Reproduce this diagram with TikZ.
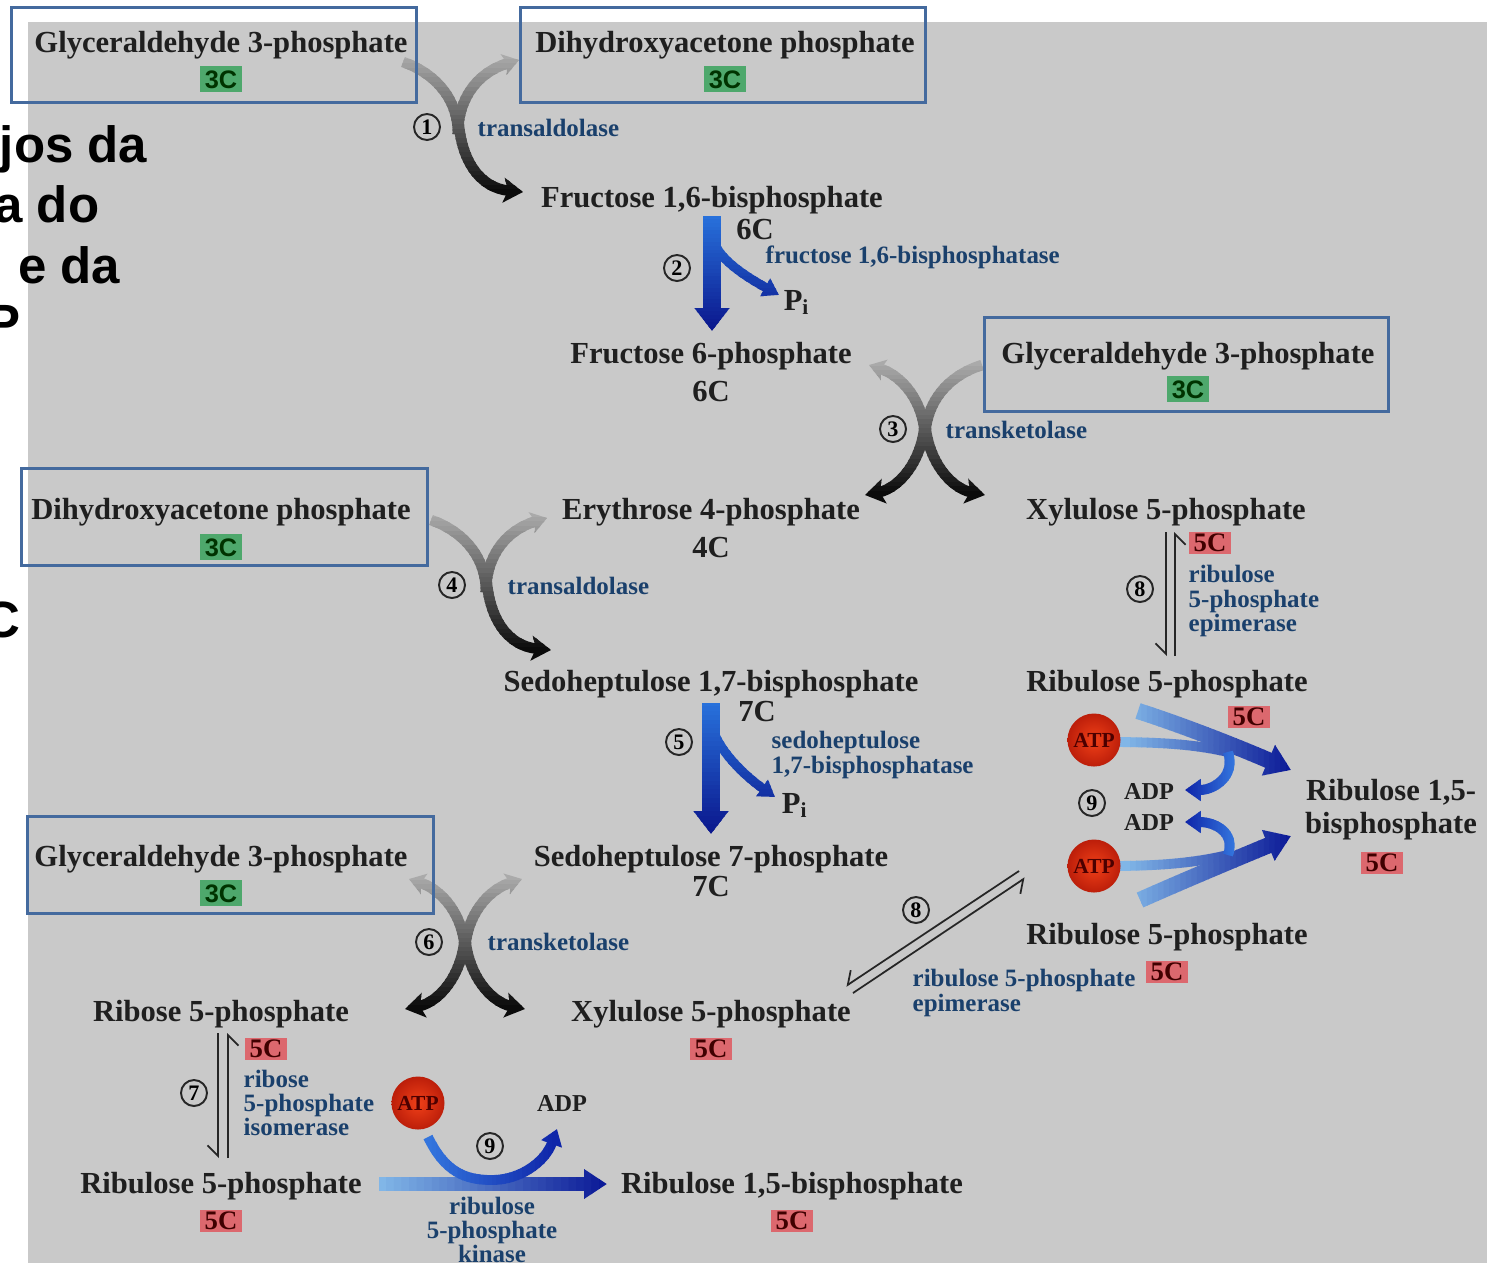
\documentclass[tikz,border=0pt]{standalone}
\usepackage{fontspec}
\newfontfamily\arialfont{Liberation Sans}
\newfontfamily\serifb{Liberation Serif}
\usetikzlibrary{arrows.meta}

\definecolor{panel}{RGB}{201,201,201}
\definecolor{boxblue}{RGB}{68,106,158}
\definecolor{enzblue}{RGB}{26,64,108}
\definecolor{cgreen}{RGB}{78,168,108}
\definecolor{cred}{RGB}{220,104,110}
\definecolor{atpin}{RGB}{240,64,24}
\definecolor{atpout}{RGB}{188,30,10}
\definecolor{xtop}{RGB}{172,172,172}
\definecolor{xbot}{RGB}{8,8,8}
\definecolor{btop}{RGB}{40,114,220}
\definecolor{bbot}{RGB}{10,22,140}
\definecolor{hleft}{RGB}{130,184,232}
\definecolor{hright}{RGB}{10,24,150}
\definecolor{cleft}{RGB}{52,118,222}
\definecolor{cright}{RGB}{14,36,168}

% vertical colour gradient for strokes: top y, bottom y, top colour, bottom colour, drawing
\newcommand\gradY[5]{%
  \foreach \k in {0,...,29}{%
    \pgfmathsetmacro\ya{(#1)+((#2)-(#1))*\k/30-0.4}%
    \pgfmathsetmacro\yb{(#1)+((#2)-(#1))*(\k+1)/30+0.4}%
    \ifnum\k=0 \def\ya{-300}\fi
    \ifnum\k=29 \def\yb{1800}\fi
    \pgfmathtruncatemacro\pc{100*(\k+0.5)/30}%
    \begin{scope}
      \clip (-300,\ya) rectangle (1800,\yb);
      \colorlet{gc}{#4!\pc!#3}%
      #5
    \end{scope}%
  }%
}
% horizontal colour gradient: left x, right x, left colour, right colour, drawing
\newcommand\gradX[5]{%
  \foreach \k in {0,...,29}{%
    \pgfmathsetmacro\xa{(#1)+((#2)-(#1))*\k/30-0.4}%
    \pgfmathsetmacro\xb{(#1)+((#2)-(#1))*(\k+1)/30+0.4}%
    \ifnum\k=0 \def\xa{-300}\fi
    \ifnum\k=29 \def\xb{1800}\fi
    \pgfmathtruncatemacro\pc{100*(\k+0.5)/30}%
    \begin{scope}
      \clip (\xa,-300) rectangle (\xb,1800);
      \colorlet{gc}{#4!\pc!#3}%
      #5
    \end{scope}%
  }%
}
% lambda-shaped transaldolase icon
\newcommand\yshape{%
  \gradY{55}{195}{xtop}{xbot}{%
    \draw[xarm] (403,62) .. controls (432,72) and (458,96) .. (458,134);
    \draw[xarm,-{Stealth[width=6pt,length=4.5pt,inset=1pt]}] (458,134) .. controls (458,98) and (478,72) .. (519,60);
    \draw[xarm,-{Stealth[width=7pt,length=5.5pt,inset=1.2pt]}] (458,108) .. controls (458,160) and (480,188) .. (523,192);
  }}
% X-shaped transketolase icon, centred at origin; #1 = tip of upper right arm
\newcommand\xshape[1]{%
  \gradY{-66}{68}{xtop}{xbot}{%
    \draw[xarm,-{Stealth[width=6pt,length=4.5pt,inset=1pt]}] (0,12) .. controls (0,-25) and (-22,-52) .. (-56,-63);
    \draw[xarm,#1] (0,12) .. controls (0,-25) and (22,-52) .. (57,-63);
    \draw[xarm,-{Stealth[width=7pt,length=5.5pt,inset=1.2pt]}] (0,-12) .. controls (0,30) and (-25,60) .. (-60,67);
    \draw[xarm,-{Stealth[width=7pt,length=5.5pt,inset=1.2pt]}] (0,-12) .. controls (0,30) and (25,60) .. (60,67);
  }}

\begin{document}
\begin{tikzpicture}[x=0.01cm,y=-0.01cm,line cap=butt,
  xarm/.style={draw=gc,line width=3pt},
  bshaft/.style={draw=gc,line width=5pt},
  bbranch/.style={draw=gc,line width=2.6pt},
  hband/.style={draw=gc,line width=4.6pt},
  hbandb/.style={draw=gc,line width=3.8pt},
  hin/.style={draw=gc,line width=2.8pt},
  eqline/.style={draw=black!85,line width=0.5pt,-{Straight Barb[harpoon,swap,length=3pt,width=6pt]}},
  mol/.style={font=\serifb\bfseries\fontsize{8.7}{10}\selectfont,text=black!88,inner sep=0pt,text height=5.8pt,text depth=0pt},
  adp/.style={font=\serifb\bfseries\fontsize{6.9}{8}\selectfont,text=black!88,inner sep=0pt,text height=4.6pt,text depth=0pt},
  enz/.style={font=\serifb\bfseries\fontsize{7.1}{6.9}\selectfont,text=enzblue,inner sep=0pt,align=left,anchor=west},
  num/.style={circle,draw=black!85,line width=0.55pt,minimum size=0.26cm,inner sep=0pt,font=\serifb\bfseries\fontsize{6.3}{7}\selectfont},
  atp/.style={circle,minimum size=0.53cm,inner sep=0pt,shade,shading=radial,inner color=atpin,outer color=atpout,font=\serifb\bfseries\fontsize{6.1}{7}\selectfont,text=black!70!red},
  cg/.style={fill=cgreen,font=\arialfont\bfseries\fontsize{7.2}{8}\selectfont,text=black!80!green,inner xsep=1.3pt,inner ysep=1pt,text height=5.2pt,text depth=0pt},
  cr/.style={fill=cred,font=\serifb\bfseries\fontsize{7.6}{8}\selectfont,text=black!75!red,inner xsep=1.2pt,inner ysep=0.7pt,text height=5pt,text depth=0pt},
  bluebox/.style={draw=boxblue,line width=0.85pt,inner sep=0pt},
  ptx/.style={font=\arialfont\bfseries\fontsize{14.5}{16}\selectfont,inner sep=0pt,anchor=base east},
]
\useasboundingbox (0,0) rectangle (1491,1263);
\clip (0,0) rectangle (1491,1263);
\fill[white] (0,0) rectangle (1491,1263);
\fill[panel] (28,22) rectangle (1487,1263);

% cut-off slide text on the left
\node[ptx] (pt1) at (148,162) {jos da};
\node[ptx] (pt2) at (100,222) {a do};
\node[ptx] (pt3) at (121,283) {e da};
\node[ptx] (pt4) at (21,340) {P};
\node[ptx] (pt5) at (21,637) {C};

% ---- grey/black transaldolase and transketolase icons
\yshape
\begin{scope}[shift={(28,458)}]\yshape\end{scope}
\begin{scope}[shift={(925,428)}]\xshape{-}\end{scope}
\begin{scope}[shift={(465,942)}]\xshape{-{Stealth[width=6pt,length=4.5pt,inset=1pt]}}\end{scope}

% ---- blue phosphatase arrows
\gradY{216}{331}{btop}{bbot}{%
  \draw[bshaft,-{Triangle[width=9.5pt,length=6.5pt]}] (712,216) -- (712,331);
  \draw[bbranch,-{Triangle[width=5.5pt,length=4.5pt]}] (712,236) .. controls (716,258) and (745,276) .. (779,295);
}
\gradY{703}{834}{btop}{bbot}{%
  \draw[bshaft,-{Triangle[width=9.5pt,length=6.5pt]}] (711,703) -- (711,834);
  \draw[bbranch,-{Triangle[width=5.5pt,length=4.5pt]}] (711,722) .. controls (715,748) and (745,776) .. (775,797);
}

% ---- ribulose 5-phosphate kinase (right)
\gradX{1125}{1292}{hleft}{hright}{%
  \draw[hin] (1110,742) .. controls (1165,742) and (1200,745) .. (1232,753);
  \draw[hin] (1110,866) .. controls (1165,866) and (1200,862) .. (1232,854);
  \draw[hband,-{Triangle[width=9pt,length=7pt]}] (1138,711) .. controls (1185,726) and (1240,748) .. (1291,770);
  \draw[hband,-{Triangle[width=9pt,length=7pt]}] (1140,900) .. controls (1185,880) and (1240,857) .. (1291,836);
}
\gradX{1185}{1235}{cright}{cleft}{%
  \draw[hin,-{Triangle[width=6pt,length=4.5pt]}] (1228,752) .. controls (1236,776) and (1214,790) .. (1185,790);
  \draw[hin,-{Triangle[width=6pt,length=4.5pt]}] (1228,855) .. controls (1236,832) and (1214,822) .. (1185,822);
}
% ---- ribulose 5-phosphate kinase (bottom)
\gradX{379}{607}{hleft}{hright}{%
  \draw[hbandb,-{Triangle[width=8pt,length=6.5pt]}] (379,1184) -- (607,1184);
}
\gradX{428}{557}{cleft}{cright}{%
  \draw[hin,-{Triangle[width=6pt,length=4.5pt]}] (428,1137) .. controls (445,1172) and (465,1180) .. (492,1180) .. controls (520,1180) and (545,1162) .. (557,1129);
}

% ---- equilibrium arrows
\coordinate (e8a) at (1166,532); \coordinate (e8b) at (1166,656);
\coordinate (e8c) at (1175,656); \coordinate (e8d) at (1175,532);
\draw[eqline] (e8a) -- (e8b);
\draw[eqline] (e8c) -- (e8d);
\coordinate (e7a) at (218,1033); \coordinate (e7b) at (218,1158);
\coordinate (e7c) at (228,1158); \coordinate (e7d) at (228,1033);
\draw[eqline] (e7a) -- (e7b);
\draw[eqline] (e7c) -- (e7d);
\coordinate (d8a) at (1019,871); \coordinate (d8b) at (846,986);
\coordinate (d8c) at (853,993); \coordinate (d8d) at (1025,878);
\draw[eqline] (d8a) -- (d8b);
\draw[eqline] (d8c) -- (d8d);

% ---- blue boxes
\node[bluebox,minimum width=4.04cm,minimum height=0.94cm] (boxA) at (214,55) {};
\node[bluebox,minimum width=4.04cm,minimum height=0.94cm] (boxB) at (723,55) {};
\node[bluebox,minimum width=4.03cm,minimum height=0.93cm] (boxC) at (1186.5,364.5) {};
\node[bluebox,minimum width=4.05cm,minimum height=0.96cm] (boxD) at (224.5,517) {};
\node[bluebox,minimum width=4.05cm,minimum height=0.96cm] (boxE) at (230.5,865) {};

% ---- ATP balls
\node[atp] (atpA) at (1094,740) {ATP};
\node[atp] (atpB) at (1094,866) {ATP};
\node[atp] (atpC) at (418,1103) {ATP};

% ---- molecules
\node[mol] (gap1) at (221,42) {Glyceraldehyde 3-phosphate};
\node[cg] (gap1c) at (221,79) {3C};
\node[mol] (dhap1) at (725,42) {Dihydroxyacetone phosphate};
\node[cg] (dhap1c) at (725,79) {3C};
\node[mol] (fbp) at (712,197) {Fructose 1,6-bisphosphate};
\node[mol] (fbpc) at (755,229) {6C};
\node[mol] (f6p) at (711,353) {Fructose 6-phosphate};
\node[mol] (f6pc) at (711,391) {6C};
\node[mol] (gap2) at (1188,353) {Glyceraldehyde 3-phosphate};
\node[cg] (gap2c) at (1188,389) {3C};
\node[mol] (dhap2) at (221,509) {Dihydroxyacetone phosphate};
\node[cg] (dhap2c) at (221,547) {3C};
\node[mol] (e4p) at (711,509) {Erythrose 4-phosphate};
\node[mol] (e4pc) at (711,547) {4C};
\node[mol] (xu5pa) at (1166,509) {Xylulose 5-phosphate};
\node[cr] (xu5pac) at (1210,543) {5C};
\node[mol] (sbp) at (711,681) {Sedoheptulose 1,7-bisphosphate};
\node[mol] (sbpc) at (757,711) {7C};
\node[mol] (ru5pa) at (1167,681) {Ribulose 5-phosphate};
\node[cr] (ru5pac) at (1249,717) {5C};
\node[mol] (rubpa1) at (1391,790) {Ribulose 1,5-};
\node[mol] (rubpa2) at (1391,823) {bisphosphate};
\node[cr] (rubpac) at (1382,863) {5C};
\node[mol] (gap3) at (221,856) {Glyceraldehyde 3-phosphate};
\node[cg] (gap3c) at (221,893) {3C};
\node[mol] (s7p) at (711,856) {Sedoheptulose 7-phosphate};
\node[mol] (s7pc) at (711,886) {7C};
\node[mol] (ru5pb) at (1167,934) {Ribulose 5-phosphate};
\node[cr] (ru5pbc) at (1167,972) {5C};
\node[mol] (r5p) at (221,1011) {Ribose 5-phosphate};
\node[cr] (r5pc) at (266,1049) {5C};
\node[mol] (xu5pb) at (711,1011) {Xylulose 5-phosphate};
\node[cr] (xu5pbc) at (711,1049) {5C};
\node[mol] (ru5pc) at (221,1183) {Ribulose 5-phosphate};
\node[cr] (ru5pcc) at (221,1221) {5C};
\node[mol] (rubpb) at (792,1183) {Ribulose 1,5-bisphosphate};
\node[cr] (rubpbc) at (792,1221) {5C};
\node[mol] (pi1) at (797,300) {P\textsubscript{i}};
\node[mol] (pi2) at (795,803) {P\textsubscript{i}};
\node[adp] (adp1) at (1149,791) {ADP};
\node[adp] (adp2) at (1149,822) {ADP};
\node[adp] (adp3) at (562,1103) {ADP};

% ---- step numbers
\node[num] (n1) at (427,127) {1};
\node[num] (n2) at (677,268) {2};
\node[num] (n3) at (893,429) {3};
\node[num] (n4) at (452,585) {4};
\node[num] (n5) at (679,742) {5};
\node[num] (n6) at (429,942) {6};
\node[num] (n7) at (194,1093) {7};
\node[num] (n8a) at (1140,589) {8};
\node[num] (n8b) at (916,910) {8};
\node[num] (n9a) at (1092,803) {9};
\node[num] (n9b) at (490,1146) {9};

% ---- enzymes
\node[enz] (z1) at (477,128) {transaldolase};
\node[enz] (z2) at (765,257) {fructose 1,6-bisphosphatase};
\node[enz] (z3) at (945,430) {transketolase};
\node[enz] (z4) at (507,586) {transaldolase};
\node[enz] (z5) at (771,755) {sedoheptulose\\1,7-bisphosphatase};
\node[enz] (z6) at (487,942) {transketolase};
\node[enz] (z7) at (1188,601) {ribulose\\5-phosphate\\epimerase};
\node[enz] (z8) at (912,993) {ribulose 5-phosphate\\epimerase};
\node[enz] (z9) at (243,1103) {ribose\\5-phosphate\\isomerase};
\node[enz,align=center,anchor=center] (z10) at (492,1230) {ribulose\\5-phosphate\\kinase};
\end{tikzpicture}
\end{document}
